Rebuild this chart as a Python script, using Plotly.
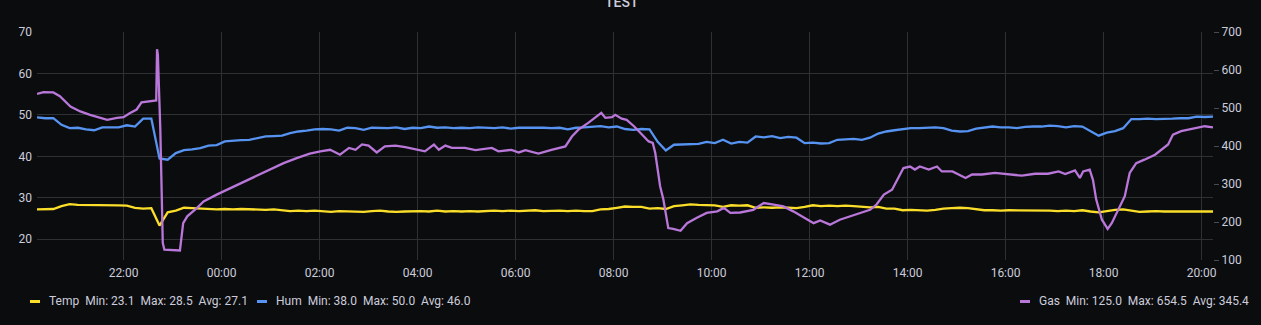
import pandas as pd
import plotly.graph_objects as go

# ---------------- data ----------------
START = "2024-03-01 20:14"
STEP_MIN = 10

temp = [27.2, 27.2, 27.3, 28.0, 28.5, 28.3, 28.3, 28.2, 28.3, 28.2,
        28.2, 28.1, 27.6, 27.4, 27.5, 23.3, 26.5, 26.9, 27.6, 27.5,
        27.4, 27.3, 27.2, 27.3, 27.2, 27.3, 27.2, 27.2, 27.1, 27.2,
        27.0, 26.8, 26.9, 26.8, 26.9, 26.7, 26.6, 26.8, 26.7, 26.6,
        26.6, 26.8, 26.9, 26.7, 26.6, 26.7, 26.8, 26.8, 26.7, 26.9,
        26.7, 26.8, 26.7, 26.8, 26.7, 26.8, 26.9, 26.8, 26.9, 26.8,
        26.9, 27.0, 26.8, 26.9, 26.9, 26.8, 26.9, 26.8, 26.8, 27.2,
        27.3, 27.6, 27.9, 27.8, 27.8, 27.4, 27.5, 27.3, 28.0, 28.2,
        28.4, 28.3, 28.2, 28.2, 27.8, 28.2, 28.1, 28.2, 27.6, 27.7,
        27.6, 27.7, 27.6, 27.5, 27.8, 28.2, 28.0, 28.1, 28.0, 28.1,
        28.0, 27.8, 27.7, 27.8, 27.4, 27.4, 27.0, 27.1, 27.0, 26.9,
        27.1, 27.4, 27.5, 27.6, 27.5, 27.2, 27.0, 27.0, 26.9, 27.0,
        27.0, 26.9, 27.0, 26.9, 26.9, 26.8, 26.9, 26.8, 27.0, 26.7,
        26.5, 26.8, 27.1, 27.2, 26.9, 26.6, 26.7, 26.8, 26.7, 26.7,
        26.7, 26.7, 26.7, 26.7, 26.7]

hum = [49.4, 49.2, 49.2, 47.6, 46.8, 46.9, 46.5, 46.3, 47.0, 47.0,
       47.0, 47.5, 47.2, 49.1, 49.1, 39.5, 39.2, 40.8, 41.5, 41.7,
       42.0, 42.6, 42.7, 43.6, 43.8, 43.9, 44.0, 44.4, 44.8, 44.9,
       45.0, 45.6, 46.0, 46.2, 46.5, 46.6, 46.5, 46.2, 46.9, 46.8,
       46.4, 46.9, 46.9, 46.8, 47.0, 46.6, 46.9, 46.8, 47.2, 46.9,
       47.0, 46.8, 46.9, 46.8, 47.0, 46.9, 46.8, 47.0, 46.7, 46.9,
       46.9, 47.0, 46.9, 46.8, 46.9, 46.5, 46.9, 47.0, 47.1, 47.3,
       47.0, 47.2, 46.6, 46.4, 46.6, 46.5, 43.5, 41.4, 42.8, 42.9,
       42.9, 43.0, 43.5, 43.2, 44.0, 43.1, 43.5, 43.3, 44.8, 44.6,
       44.9, 44.4, 44.7, 44.5, 43.2, 43.3, 43.1, 43.2, 44.0, 44.1,
       44.2, 44.0, 44.5, 45.5, 46.0, 46.3, 46.6, 46.8, 46.8, 46.9,
       47.0, 46.8, 46.2, 46.0, 46.1, 46.7, 46.9, 47.2, 47.0, 47.0,
       46.8, 47.1, 47.2, 47.2, 47.4, 47.3, 47.0, 47.3, 47.2, 46.0,
       45.0, 45.7, 46.1, 46.8, 49.0, 49.0, 49.1, 49.0, 49.0, 49.1,
       49.2, 49.2, 49.6, 49.5, 49.6]

gas_clock = ["20:14", "20:22", "20:34", "20:42", "20:55", "21:07", "21:19", "21:31",
             "21:40", "21:52", "22:00", "22:08", "22:16", "22:22", "22:37", "22:40",
             "22:41", "22:42", "22:45", "22:48", "22:50", "23:09", "23:13", "23:18",
             "23:30", "23:38", "23:54", "00:11", "00:27", "00:43", "01:00", "01:16",
             "01:32", "01:48", "02:01", "02:13", "02:25", "02:36", "02:44", "02:52",
             "03:00", "03:10", "03:20", "03:33", "03:45", "03:57", "04:09", "04:20",
             "04:26", "04:34", "04:42", "04:58", "05:11", "05:31", "05:39", "05:55",
             "06:04", "06:12", "06:28", "06:44", "06:53", "07:01", "07:09", "07:17",
             "07:29", "07:37", "07:45", "07:50", "07:58", "08:02", "08:10", "08:16",
             "08:25", "08:33", "08:43", "08:48", "08:51", "08:57", "09:01", "09:07",
             "09:13", "09:22", "09:30", "09:42", "09:54", "10:07", "10:15", "10:23",
             "10:35", "10:51", "11:04", "11:16", "11:28", "11:40", "11:53", "12:05",
             "12:13", "12:25", "12:37", "12:50", "13:02", "13:14", "13:22", "13:31",
             "13:41", "13:49", "13:55", "14:03", "14:09", "14:15", "14:26", "14:36",
             "14:42", "14:55", "15:11", "15:19", "15:31", "15:47", "16:04", "16:20",
             "16:36", "16:52", "17:05", "17:13", "17:25", "17:31", "17:35", "17:43",
             "17:47", "17:51", "17:58", "18:05", "18:10", "18:16", "18:26", "18:32",
             "18:40", "18:50", "19:03", "19:19", "19:25", "19:35", "19:51", "20:04",
             "20:14"]
gas = [537, 542, 541, 531, 504, 491, 482, 474,
       469, 474, 476, 487, 496, 515, 518, 520,
       654.5, 640, 443, 145, 127, 125, 197, 215,
       237, 254, 272, 289, 304, 320, 338, 355,
       368, 380, 386, 390, 377, 395, 390, 404,
       401, 383, 399, 401, 397, 392, 386, 404,
       390, 401, 395, 395, 389, 395, 386, 390,
       383, 389, 380, 390, 395, 399, 425, 443,
       461, 474, 487, 474, 476, 482, 472, 469,
       452, 434, 412, 408, 382, 294, 259, 184,
       182, 177, 197, 211, 224, 228, 237, 224,
       225, 232, 250, 246, 241, 228, 211, 197,
       204, 193, 206, 215, 224, 232, 246, 272,
       285, 320, 342, 346, 338, 346, 338, 346,
       333, 333, 316, 325, 325, 329, 325, 322,
       327, 327, 333, 326, 336, 316, 333, 338,
       311, 259, 206, 182, 197, 224, 268, 329,
       355, 364, 377, 404, 430, 439, 447, 452,
       449]

legend_labels = {
    "Temp": "Temp\u00a0\u00a0Min: 23.1\u00a0\u00a0Max: 28.5\u00a0\u00a0Avg: 27.1",
    "Hum": "Hum\u00a0\u00a0Min: 38.0\u00a0\u00a0Max: 50.0\u00a0\u00a0Avg: 46.0",
    "Gas": "Gas\u00a0\u00a0Min: 125.0\u00a0\u00a0Max: 654.5\u00a0\u00a0Avg: 345.4",
}

# ---------------- build ----------------
grid_times = pd.date_range(START, periods=len(temp), freq=f"{STEP_MIN}min")
day0 = pd.Timestamp(START).normalize()
gas_times = []
day = 0
prev = None
for c in gas_clock:
    hh, mm = map(int, c.split(":"))
    mins = hh * 60 + mm
    if prev is not None and mins < prev:
        day += 1
    prev = mins
    gas_times.append(day0 + pd.Timedelta(days=day, minutes=mins))

BG = "#0b0c0e"
TXT = "#ccccdc"
GRID = "#2f3034"
YEL = "#fade2a"
BLU = "#5794f2"
PUR = "#b877d9"
FONT = "Roboto, Inter, sans-serif"

fig = go.Figure()
fig.add_trace(go.Scatter(x=grid_times, y=temp, mode="lines", name="Temp",
                         line=dict(color=YEL, width=2.3), yaxis="y"))
fig.add_trace(go.Scatter(x=grid_times, y=hum, mode="lines", name="Hum",
                         line=dict(color=BLU, width=2.3), yaxis="y"))
fig.add_trace(go.Scatter(x=gas_times, y=gas, mode="lines", name="Gas",
                         line=dict(color=PUR, width=2.3), yaxis="y2"))

W, H = 1261, 325
L, R, T, B = 37, 48, 32, 65
pw, ph = W - L - R, H - T - B


def px_x(px):
    return (px - L) / pw


def px_y(py):
    return (H - B - py) / ph


fig.update_layout(
    width=W, height=H,
    margin=dict(l=L, r=R, t=T, b=B),
    paper_bgcolor=BG, plot_bgcolor=BG,
    font=dict(family=FONT, color=TXT, size=12),
    showlegend=False,
    xaxis=dict(
        type="date",
        range=[grid_times[0], grid_times[-1]],
        tickformat="%H:%M",
        dtick=2 * 3600 * 1000,
        tick0="2024-03-01 22:00",
        showgrid=True, gridcolor=GRID, gridwidth=1,
        zeroline=False, showline=False, ticks="",
        ticklabelstandoff=4,
        tickfont=dict(size=12, color=TXT),
    ),
    yaxis=dict(
        range=[15, 70], tick0=0, dtick=10,
        showgrid=True, gridcolor=GRID, gridwidth=1,
        zeroline=False, showline=False, ticks="",
        ticklabelstandoff=4,
        tickfont=dict(size=12, color=TXT),
    ),
    yaxis2=dict(
        range=[100, 700], tick0=0, dtick=100,
        overlaying="y", side="right",
        showgrid=False, zeroline=False, showline=False,
        ticks="outside", ticklen=5, tickcolor="#4a4b50", tickwidth=1,
        tickfont=dict(size=12, color=TXT),
    ),
)

# title
fig.add_annotation(text="TEST", xref="paper", yref="paper",
                   x=px_x(622), y=px_y(12), xanchor="center", yanchor="bottom",
                   showarrow=False, font=dict(size=14, color=TXT, family=FONT, weight=500))

# legend entries (line swatch + text)
leg = [("Temp", YEL, 30, 47), ("Hum", BLU, 257, 274), ("Gas", PUR, 1020, 1037)]
for key, col, sx, tx in leg:
    fig.add_shape(type="line", xref="paper", yref="paper",
                  x0=px_x(sx), x1=px_x(sx + 10), y0=px_y(301.5), y1=px_y(301.5),
                  line=dict(color=col, width=3))
    fig.add_annotation(text=legend_labels[key], xref="paper", yref="paper",
                       x=px_x(tx), y=px_y(301), xanchor="left", yanchor="middle",
                       showarrow=False, font=dict(size=12, color=TXT, family=FONT))

fig.write_html("out.html", config={"displayModeBar": False})
